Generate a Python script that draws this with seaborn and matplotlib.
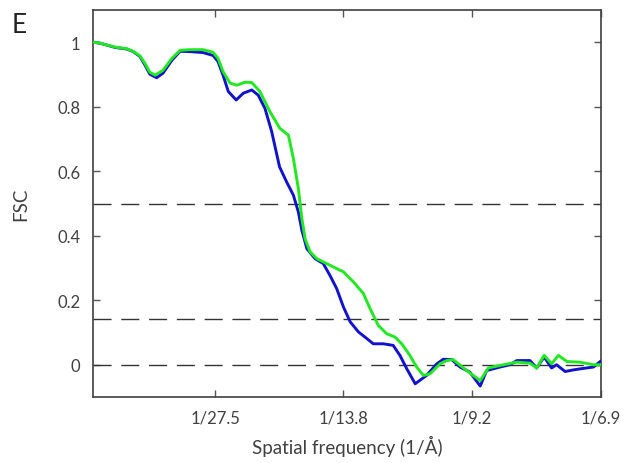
import matplotlib
matplotlib.use("Agg")
import matplotlib.pyplot as plt
import seaborn as sns
import pandas as pd

# ---- data ----
blue_freq = [0.0021, 0.0040, 0.0082, 0.0115, 0.0133, 0.0152, 0.0166, 0.0180, 0.0199, 0.0217,
             0.0242, 0.0265, 0.0293, 0.0330, 0.0358, 0.0372, 0.0386, 0.0401, 0.0423, 0.0443,
             0.0467, 0.0485, 0.0504, 0.0523, 0.0545, 0.0565, 0.0584, 0.0598, 0.0608, 0.0622,
             0.0645, 0.0668, 0.0687, 0.0706, 0.0725, 0.0744, 0.0767, 0.0791, 0.0809, 0.0837,
             0.0865, 0.0884, 0.0903, 0.0927, 0.0959, 0.0988, 0.1006, 0.1030, 0.1053, 0.1081,
             0.1110, 0.1128, 0.1166, 0.1194, 0.1213, 0.1250, 0.1269, 0.1290, 0.1311, 0.1325,
             0.1349, 0.1372, 0.1396, 0.1429, 0.1450]
blue_fsc = [1.000, 0.997, 0.984, 0.979, 0.971, 0.956, 0.930, 0.901, 0.890, 0.904,
            0.944, 0.972, 0.971, 0.968, 0.959, 0.940, 0.898, 0.847, 0.821, 0.842,
            0.852, 0.836, 0.795, 0.723, 0.614, 0.567, 0.526, 0.474, 0.417, 0.360,
            0.329, 0.314, 0.277, 0.236, 0.179, 0.133, 0.102, 0.081, 0.065, 0.065,
            0.060, 0.029, -0.012, -0.059, -0.033, 0.003, 0.017, 0.016, -0.007, -0.023,
            -0.066, -0.018, -0.007, 0.000, 0.013, 0.013, -0.010, 0.024, -0.010, 0.000,
            -0.021, -0.016, -0.012, -0.007, 0.012]

green_freq = [0.0021, 0.0040, 0.0082, 0.0115, 0.0133, 0.0152, 0.0166, 0.0180, 0.0195, 0.0217,
              0.0242, 0.0265, 0.0293, 0.0330, 0.0358, 0.0372, 0.0386, 0.0406, 0.0425, 0.0448,
              0.0467, 0.0490, 0.0518, 0.0546, 0.0570, 0.0584, 0.0598, 0.0608, 0.0617, 0.0631,
              0.0650, 0.0668, 0.0697, 0.0725, 0.0753, 0.0781, 0.0800, 0.0823, 0.0847, 0.0870,
              0.0889, 0.0912, 0.0931, 0.0950, 0.0969, 0.0997, 0.1016, 0.1034, 0.1072, 0.1110,
              0.1133, 0.1166, 0.1213, 0.1250, 0.1269, 0.1290, 0.1311, 0.1330, 0.1354, 0.1391,
              0.1429, 0.1450]
green_fsc = [1.000, 0.997, 0.985, 0.980, 0.972, 0.958, 0.935, 0.907, 0.898, 0.913,
             0.950, 0.975, 0.977, 0.977, 0.969, 0.950, 0.909, 0.873, 0.867, 0.876,
             0.875, 0.847, 0.785, 0.733, 0.712, 0.640, 0.547, 0.453, 0.391, 0.350,
             0.329, 0.319, 0.303, 0.288, 0.257, 0.221, 0.174, 0.122, 0.096, 0.086,
             0.065, 0.029, -0.007, -0.033, -0.028, 0.003, 0.013, 0.016, -0.018, -0.049,
             -0.010, -0.002, 0.008, 0.005, -0.010, 0.029, 0.003, 0.029, 0.010, 0.008,
             0.000, 0.000]

thresholds = [0.5, 0.143, 0.0]
xtick_vals = [1 / 27.5, 1 / 13.8, 1 / 9.2, 1 / 6.9]
xtick_labels = ["1/27.5", "1/13.8", "1/9.2", "1/6.9"]
ytick_vals = [0, 0.2, 0.4, 0.6, 0.8, 1]
ytick_labels = ["0", "0.2", "0.4", "0.6", "0.8", "1"]

df = pd.concat([
    pd.DataFrame({"freq": blue_freq, "fsc": blue_fsc, "map": "blue"}),
    pd.DataFrame({"freq": green_freq, "fsc": green_fsc, "map": "green"}),
])

sns.set_style("white")
plt.rcParams["font.family"] = ["Lato", "DejaVu Sans"]

fig = plt.figure(figsize=(6.34, 4.64), dpi=100)
ax = fig.add_axes([93 / 634, 66 / 464, 508 / 634, 387 / 464])

for t in thresholds:
    ax.axhline(t, color="#333333", lw=1.0, linestyle=(0, (13, 7)), zorder=1)

sns.lineplot(data=df, x="freq", y="fsc", hue="map",
             palette={"blue": "#1212cc", "green": "#22e822"},
             hue_order=["blue", "green"], sort=False, estimator=None,
             lw=2.1, legend=False, ax=ax, zorder=3)

ax.set_xlim(0.002, 0.145)
ax.set_ylim(-0.1, 1.1)
ax.set_xticks(xtick_vals)
ax.set_xticklabels(xtick_labels)
ax.set_yticks(ytick_vals)
ax.set_yticklabels(ytick_labels)

txt = "#404040"
ax.tick_params(axis="both", direction="in", length=5, width=1.0, color="#555555",
               labelsize=12, labelcolor=txt, pad=9, top=True, right=True, bottom=True, left=True)
for s in ax.spines.values():
    s.set_color("#404040")
    s.set_linewidth(1.2)
    s.set_visible(True)

ax.set_xlabel("Spatial frequency (1/Å)", fontsize=13.5, color=txt, labelpad=7)
ax.set_ylabel("FSC", fontsize=13.5, color=txt, labelpad=20)

fig.text(12 / 634, 1 - 33 / 464, "E", fontsize=19, color="#222222", ha="left", va="baseline")

fig.savefig("out.png", dpi=100)
